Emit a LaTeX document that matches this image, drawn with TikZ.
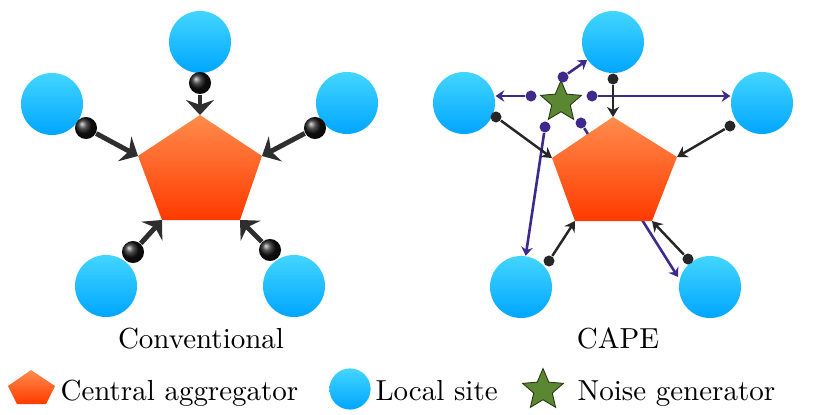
\documentclass[tikz,border=0pt]{standalone}
\usetikzlibrary{arrows.meta,shapes.geometric}
\definecolor{siteTop}{RGB}{66,214,255}
\definecolor{siteBot}{RGB}{0,165,255}
\definecolor{aggTop}{RGB}{255,140,76}
\definecolor{aggBot}{RGB}{255,58,0}
\definecolor{noiseGreen}{RGB}{92,135,50}
\definecolor{noisePurple}{RGB}{62,42,140}
\begin{document}
\begin{tikzpicture}[x=0.345pt, y=-0.345pt,
  site/.style={circle, inner sep=0pt, minimum size=21.4pt, top color=siteTop, bottom color=siteBot},
  bigball/.style={circle, inner sep=0pt, minimum size=7.6pt, ball color=black!92},
  smallball/.style={circle, inner sep=0pt, minimum size=3.8pt, fill=black!85},
  noiseball/.style={circle, inner sep=0pt, minimum size=3.8pt, fill=noisePurple},
  bigarrow/.style={draw=black!82, line width=1.7pt, -{Stealth[length=5.2pt, width=9.7pt]}},
  smallarrow/.style={draw=black!85, line width=0.85pt, -{Stealth[length=3.5pt, width=4.2pt]}},
  noisearrow/.style={draw=noisePurple, line width=0.9pt, -{Stealth[length=3pt, width=4pt]}},
  noisestar/.style={star, star points=5, star point ratio=2.2, inner sep=0pt, minimum size=14.8pt,
    fill=noiseGreen, draw=black!60!noiseGreen, line width=0.3pt},
  label/.style={inner sep=0pt, anchor=base}]
  \useasboundingbox (0,0) rectangle (830,415);

  % conventional
  \node[site] (s1) at (200,42) {};
  \node[site] (s2) at (52,104) {};
  \node[site] (s3) at (347,103) {};
  \node[site] (s4) at (106,286) {};
  \node[site] (s5) at (294,286) {};
  \coordinate (a1) at (200,115);
  \coordinate (a2) at (262,156);
  \coordinate (a3) at (240,220);
  \coordinate (a4) at (162,220);
  \coordinate (a5) at (138,156);
  \shade[top color=aggTop, bottom color=aggBot] (a1) -- (a2) -- (a3) -- (a4) -- (a5) -- cycle;
  \node[bigball] (k1) at (200,83) {};
  \node[bigball] (k2) at (86,128) {};
  \node[bigball] (k3) at (315,128) {};
  \node[bigball] (k4) at (133,252) {};
  \node[bigball] (k5) at (270,250) {};
  \draw[bigarrow] (k1) -- (a1);
  \draw[bigarrow] (k2) -- (a5);
  \draw[bigarrow] (k3) -- (a2);
  \draw[bigarrow] (k4) -- (a4);
  \draw[bigarrow] (k5) -- (a3);
  \node[label] (conv) at (201,348) {Conventional};

  % CAPE
  \node[site] (r1) at (613,42) {};
  \node[site] (r2) at (464,103) {};
  \node[site] (r3) at (762,103) {};
  \node[site] (r4) at (521,287) {};
  \node[site] (r5) at (710,287) {};
  \node[noisestar] (g) at (561,102) {};
  \node[noiseball] (n1) at (531,96) {};
  \node[noiseball] (n2) at (563,77) {};
  \node[noiseball] (n3) at (592,96) {};
  \node[noiseball] (n4) at (545,127) {};
  \node[noiseball] (n5) at (581,123) {};
  \coordinate (h5) at (678,277);
  \draw[noisearrow] (n1) -- (n1 -| r2.east);
  \draw[noisearrow] (n2) -- (r1);
  \draw[noisearrow] (n3) -- (n3 -| r3.west);
  \draw[noisearrow] (n4) -- (r4);
  \draw[noisearrow] (n5) -- (h5);
  \coordinate (b1) at (613,117);
  \coordinate (b2) at (677,157);
  \coordinate (b3) at (652,221);
  \coordinate (b4) at (575,221);
  \coordinate (b5) at (552,158);
  \shade[top color=aggTop, bottom color=aggBot] (b1) -- (b2) -- (b3) -- (b4) -- (b5) -- cycle;
  \node[smallball] (m1) at (613,79) {};
  \node[smallball] (m2) at (496,117) {};
  \node[smallball] (m3) at (730,126) {};
  \node[smallball] (m4) at (549,261) {};
  \node[smallball] (m5) at (688,259) {};
  \draw[smallarrow] (m1) -- (b1);
  \draw[smallarrow] (m2) -- (b5);
  \draw[smallarrow] (m3) -- (b2);
  \draw[smallarrow] (m4) -- (b4);
  \draw[smallarrow] (m5) -- (b3);
  \node[label] (cape) at (618,348) {CAPE};

  % legend
  \shade[top color=aggTop, bottom color=aggBot] (31,370) -- (55,386) -- (46,404) -- (17,404) -- (8,386) -- cycle;
  \node[label, anchor=base west] (leg1) at (60,400) {Central aggregator};
  \node[site, minimum size=14.2pt] (leg2icon) at (350,389) {};
  \node[label, anchor=base west] (leg2) at (375,400) {Local site};
  \node[noisestar] (leg3icon) at (543,390) {};
  \node[label, anchor=base west] (leg3) at (577,400) {Noise generator};
\end{tikzpicture}
\end{document}
